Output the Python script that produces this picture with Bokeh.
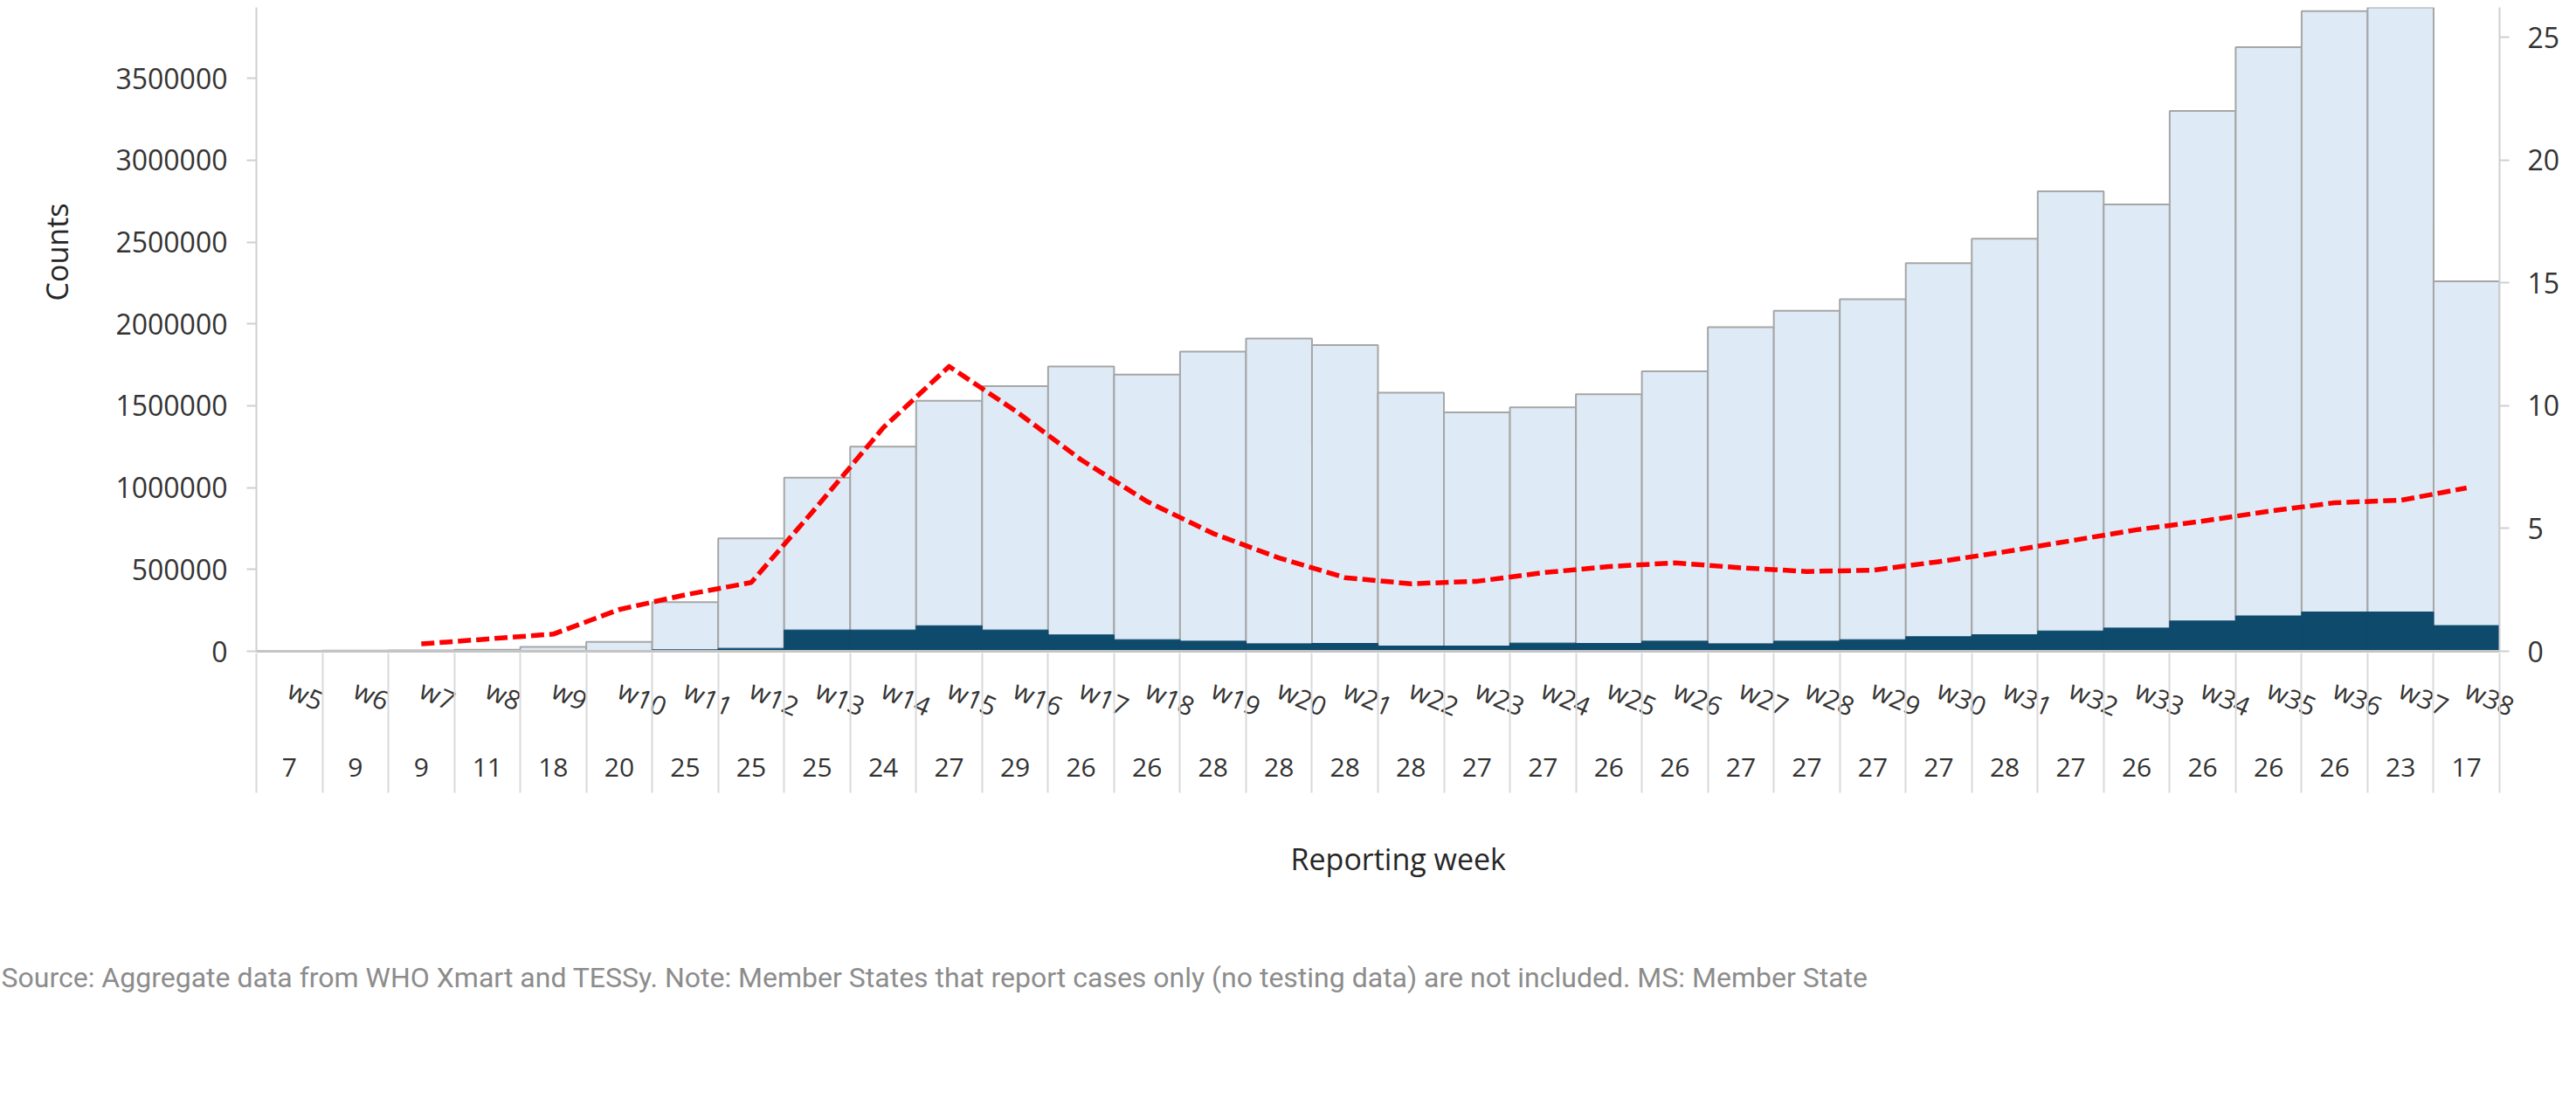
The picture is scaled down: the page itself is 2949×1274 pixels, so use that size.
import math
from bokeh.plotting import figure
from bokeh.models import (FactorRange, Range1d, LinearAxis, CategoricalAxis, FixedTicker,
                          NumeralTickFormatter, CustomJSTickFormatter, ColumnDataSource, Title)
from bokeh.embed import file_html
from bokeh.resources import INLINE

# ---------------- data ----------------
weeks = ["w5", "w6", "w7", "w8", "w9", "w10", "w11", "w12", "w13", "w14",
         "w15", "w16", "w17", "w18", "w19", "w20", "w21", "w22", "w23", "w24",
         "w25", "w26", "w27", "w28", "w29", "w30", "w31", "w32", "w33", "w34",
         "w35", "w36", "w37", "w38"]

tests = [3000, 4000, 6000, 10000, 27000, 57000, 300000, 690000, 1060000, 1250000,
         1530000, 1620000, 1740000, 1690000, 1830000, 1910000, 1870000, 1580000, 1460000, 1490000,
         1570000, 1710000, 1980000, 2080000, 2150000, 2370000, 2520000, 2810000, 2730000, 3300000,
         3690000, 3910000, 4150000, 2260000]

positives = [200, 300, 500, 1000, 2000, 4000, 9000, 18000, 130000, 130000,
             156000, 130000, 100000, 71000, 62000, 46000, 48000, 32000, 32000, 50000,
             48000, 62000, 46000, 62000, 71000, 89000, 101000, 124000, 142000, 185000,
             216000, 240000, 240000, 157000]

ms_reporting = [7, 9, 9, 11, 18, 20, 25, 25, 25, 24, 27, 29, 26, 26, 28, 28, 28, 28, 27, 27,
                26, 26, 27, 27, 27, 27, 28, 27, 26, 26, 26, 26, 23, 17]

positivity_weeks = ["w7", "w8", "w9", "w10", "w11", "w12", "w13", "w14", "w15", "w16",
                    "w17", "w18", "w19", "w20", "w21", "w22", "w23", "w24", "w25", "w26",
                    "w27", "w28", "w29", "w30", "w31", "w32", "w33", "w34", "w35", "w36",
                    "w37", "w38"]
positivity = [0.3, 0.5, 0.7, 1.7, 2.3, 2.8, 5.9, 9.1, 11.6, 9.8,
              7.8, 6.1, 4.8, 3.8, 3.0, 2.75, 2.85, 3.2, 3.45, 3.6,
              3.4, 3.25, 3.3, 3.65, 4.05, 4.5, 4.95, 5.3, 5.7, 6.05,
              6.15, 6.65]

left_ticks = [0, 500000, 1000000, 1500000, 2000000, 2500000, 3000000, 3500000, 4000000]
right_ticks = [0, 5, 10, 15, 20, 25, 30]

x_title = "Reporting week"
y_title = "Counts"
footnote = ("Source: Aggregate data from WHO Xmart and TESSy. Note: Member States that report "
            "cases only (no testing data) are not included. MS: Member State")

# ---------------- layout (pixels) ----------------
FRAME_W = 2568
FRAME_H = 737
UPP = 500000 / 93.7             # counts per pixel
RATIO = 150000                  # counts per 1 unit of right axis

font = "Open Sans"
dark_text = "#333333"

p = figure(x_range=FactorRange(*weeks, range_padding=0),
           y_range=Range1d(0, FRAME_H * UPP),
           frame_width=FRAME_W, frame_height=FRAME_H,
           min_border_left=293, min_border_right=83, min_border_top=8, min_border_bottom=515,
           x_axis_location=None, y_axis_location=None,
           output_backend="svg", toolbar_location=None, outline_line_color=None,
           background_fill_color="white", border_fill_color="white")
p.grid.visible = False
p.extra_y_ranges = {"pct": Range1d(0, FRAME_H * UPP / RATIO)}

src = ColumnDataSource(dict(week=weeks, tests=tests, pos=positives))

# bars
p.vbar(x="week", top="tests", bottom=0, width=1, source=src,
       fill_color="#DEEAF6", line_color="#A6A6A6", line_width=2)
p.vbar(x="week", top="pos", bottom=0, width=1, source=src,
       fill_color="#0D4A6B", line_color="#0D4A6B", line_width=1)

# positivity line
p.line(x=positivity_weeks, y=positivity, y_range_name="pct",
       line_color="#FF0000", line_width=5.5, line_dash="15 6", line_join="round")

# ---------------- axes ----------------
def style_axis(ax, size="32px"):
    ax.axis_line_color = "#D0D0D0"
    ax.axis_line_width = 2
    ax.major_tick_line_color = "#D0D0D0"
    ax.major_tick_line_width = 2
    ax.major_tick_in = 0
    ax.major_tick_out = 11
    ax.minor_tick_line_color = None
    ax.major_label_text_font = font
    ax.major_label_text_font_size = size
    ax.major_label_text_color = dark_text

ax_left = LinearAxis(ticker=FixedTicker(ticks=left_ticks),
                     formatter=NumeralTickFormatter(format="0"))
style_axis(ax_left)
ax_left.major_label_standoff = 22
p.add_layout(ax_left, "left")

ax_right = LinearAxis(y_range_name="pct", ticker=FixedTicker(ticks=right_ticks))
style_axis(ax_right)
ax_right.major_label_standoff = 21
p.add_layout(ax_right, "right")

# week labels (category axis, rotated)
ax_week = CategoricalAxis()
style_axis(ax_week, "30px")
ax_week.axis_line_color = "#C4C4C4"
ax_week.axis_line_width = 3
ax_week.major_tick_line_color = None
ax_week.major_tick_out = 0
ax_week.major_label_orientation = math.radians(-23)
ax_week.major_label_standoff = 42
p.add_layout(ax_week, "below")

# number of reporting MS per week, with category separators as minor ticks
centers = [i + 0.5 for i in range(len(weeks))]
bounds = [i for i in range(len(weeks) + 1)]
ax_ms = LinearAxis(ticker=FixedTicker(ticks=centers, minor_ticks=bounds),
                   formatter=CustomJSTickFormatter(
                       args=dict(labels=[str(v) for v in ms_reporting]),
                       code="return labels[Math.floor(tick)];"))
style_axis(ax_ms, "30px")
ax_ms.axis_line_color = None
ax_ms.major_tick_line_color = None
ax_ms.major_tick_out = 0
ax_ms.minor_tick_line_color = "#D9D9D9"
ax_ms.minor_tick_line_width = 2
ax_ms.minor_tick_in = 103
ax_ms.minor_tick_out = 57
ax_ms.major_label_standoff = -40
p.add_layout(ax_ms, "below")

# ---------------- titles and note ----------------
p.add_layout(Title(text=x_title, align="left", offset=1184, standoff=136, vertical_align="top",
                   text_font=font, text_font_size="34px", text_font_style="normal",
                   text_color="#262626"), "below")
p.add_layout(Title(text=footnote, align="left", offset=-292, standoff=48, vertical_align="top",
                   text_font="Roboto", text_font_size="32px", text_font_style="normal",
                   text_color="#8C8C8C"), "below")
p.add_layout(Title(text=y_title, align="right", offset=224, standoff=80, vertical_align="top",
                   text_font=font, text_font_size="34px", text_font_style="normal",
                   text_color="#262626"), "left")

open("out.html", "w").write(file_html(p, INLINE))
